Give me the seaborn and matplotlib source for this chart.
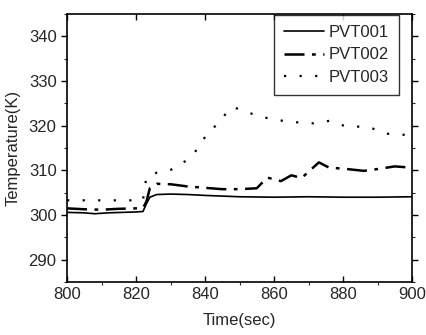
import numpy as np
import pandas as pd
import matplotlib
matplotlib.use("Agg")
import matplotlib.pyplot as plt
import seaborn as sns
from matplotlib.ticker import MultipleLocator

# values
t001 = [800, 805, 808, 812, 816, 820, 822, 823, 824, 826, 830, 835, 840, 850, 860, 870, 880, 890, 900]
v001 = [300.6, 300.5, 300.3, 300.5, 300.6, 300.7, 300.8, 302.5, 304.0, 304.6, 304.7, 304.6, 304.4, 304.1, 304.0, 304.1, 304.0, 304.0, 304.1]

t002 = [800, 805, 810, 815, 820, 822, 823, 824, 826, 830, 835, 840, 845, 850, 855, 858, 862, 865, 868,
        873, 876, 880, 886, 890, 895, 900]
v002 = [301.5, 301.3, 301.2, 301.4, 301.5, 301.6, 303.0, 306.0, 307.0, 306.9, 306.4, 306.1, 305.8, 305.8, 306.0,
        308.4, 307.6, 308.9, 308.3, 311.8, 310.6, 310.4, 309.9, 310.3, 310.9, 310.6]

t003 = [800, 805, 810, 815, 820, 822, 823, 826, 830, 835, 837, 839, 841, 844, 846, 848, 851, 856, 864,
        872, 876, 881, 887, 893, 897, 900]
v003 = [303.3, 303.3, 303.3, 303.3, 303.3, 303.3, 308.5, 309.5, 310.1, 312.4, 314.0, 316.3, 318.6, 320.6, 322.7,
        324.2, 323.4, 322.0, 320.9, 320.5, 321.1, 319.8, 319.8, 318.2, 318.0, 317.9]

series = ["PVT001", "PVT002", "PVT003"]
frames = [pd.DataFrame({"Time": t, "Temp": v, "Sensor": s})
          for t, v, s in zip([t001, t002, t003], [v001, v002, v003], series)]
df = pd.concat(frames, ignore_index=True)

sns.set_style("ticks")
plt.rcParams["font.family"] = ["Liberation Sans", "DejaVu Sans"]

fig = plt.figure(figsize=(4.27, 3.35), dpi=100)
ax = fig.add_axes([0.157, 0.158, 0.808, 0.8])

styles = {"PVT001": (None, 1.2), "PVT002": ((8, 3, 1.5, 3), 1.8), "PVT003": ((1.0, 6), 1.6)}
for s in series:
    dash, lw = styles[s]
    sub = df[df["Sensor"] == s]
    sns.lineplot(data=sub, x="Time", y="Temp", ax=ax, color="black", lw=lw, label=s)
    if dash is not None:
        ax.lines[-1].set_dashes(dash)

ax.set_xlim(800, 900)
ax.set_ylim(285, 345)
ax.xaxis.set_major_locator(MultipleLocator(20))
ax.xaxis.set_minor_locator(MultipleLocator(10))
ax.yaxis.set_major_locator(MultipleLocator(10))
ax.yaxis.set_minor_locator(MultipleLocator(5))
ax.set_yticks([290, 300, 310, 320, 330, 340])
ax.tick_params(axis="both", which="major", labelsize=12, length=4, width=1, color="black")
ax.tick_params(axis="both", which="minor", length=2.5, width=0.8)
ax.tick_params(axis="x", direction="in", top=True)
ax.tick_params(axis="y", direction="out")
ax.tick_params(axis="y", which="both", right=True)
for sp in ax.spines.values():
    sp.set_visible(True)
    sp.set_linewidth(1.2)
    sp.set_color("black")

ax.set_xlabel("Time(sec)", fontsize=12, labelpad=8)
ax.set_ylabel("Temperature(K)", fontsize=12, labelpad=6)

leg = ax.legend(loc="upper right", bbox_to_anchor=(0.962, 0.997), fontsize=12, frameon=True,
                fancybox=False, edgecolor="black", handlelength=2.4, handletextpad=0.3,
                borderpad=0.6, labelspacing=0.45, borderaxespad=0.0)
leg.get_frame().set_linewidth(1.0)

fig.savefig("out.png", dpi=100)
